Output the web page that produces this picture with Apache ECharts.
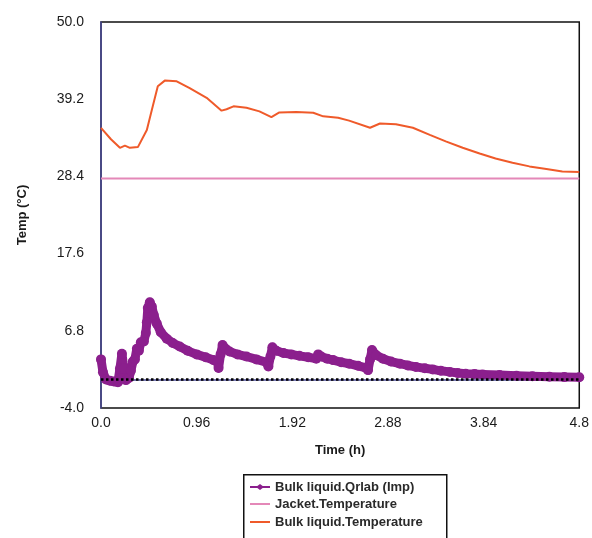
<!DOCTYPE html>
<html>
<head>
<meta charset="utf-8">
<script src="https://cdn.jsdelivr.net/npm/echarts@6/dist/echarts.min.js"></script>
<style>
html,body{margin:0;padding:0;background:#fff;}
#c{width:592px;height:538px;}
</style>
</head>
<body>
<div id="c"></div>
<script>
// ---- data ----
const seriesNames = ['Bulk liquid.Qrlab (Imp)', 'Jacket.Temperature', 'Bulk liquid.Temperature'];
const xTicks = [0, 0.96, 1.92, 2.88, 3.84, 4.8];
const yTicks = [-4.0, 6.8, 17.6, 28.4, 39.2, 50.0];

const qrlabTime = [0, 0.02, 0.05, 0.09, 0.13, 0.17, 0.19, 0.21, 0.23, 0.25, 0.28, 0.30, 0.32, 0.34, 0.36, 0.38, 0.40, 0.43, 0.45, 0.46, 0.47, 0.49, 0.51, 0.53, 0.56, 0.60, 0.66, 0.72, 0.79, 0.87, 0.96, 1.05, 1.13, 1.17, 1.18, 1.20, 1.22, 1.25, 1.29, 1.37, 1.46, 1.56, 1.66, 1.68, 1.70, 1.72, 1.76, 1.83, 1.91, 1.99, 2.08, 2.16, 2.18, 2.21, 2.27, 2.33, 2.41, 2.49, 2.58, 2.66, 2.68, 2.70, 2.72, 2.76, 2.83, 2.91, 3.00, 3.08, 3.16, 3.25, 3.33, 3.41, 3.50, 3.58, 3.66, 3.75, 3.83, 4.00, 4.17, 4.33, 4.50, 4.65, 4.80];
const qrlabValue = [2.8, 1.0, 0.0, -0.2, -0.3, -0.4, 1.5, 3.6, 1.5, -0.1, 0.2, 1.2, 2.5, 2.8, 4.3, 4.0, 5.2, 5.3, 6.5, 8.0, 10.0, 10.8, 10.2, 9.0, 7.8, 6.6, 5.7, 5.1, 4.6, 4.0, 3.5, 3.1, 2.7, 2.4, 1.6, 3.5, 4.8, 4.3, 3.9, 3.5, 3.2, 2.8, 2.4, 1.8, 3.2, 4.5, 4.0, 3.7, 3.5, 3.3, 3.1, 2.9, 3.5, 3.2, 2.9, 2.7, 2.4, 2.2, 1.9, 1.6, 1.3, 2.8, 4.1, 3.4, 2.9, 2.5, 2.2, 1.95, 1.75, 1.55, 1.4, 1.2, 1.05, 0.9, 0.8, 0.75, 0.7, 0.6, 0.5, 0.43, 0.37, 0.32, 0.3];

const jacketTime = [0, 4.8];
const jacketValue = [28.1, 28.1];

const bulkTime = [0, 0.10, 0.19, 0.24, 0.29, 0.37, 0.46, 0.51, 0.57, 0.64, 0.76, 0.89, 1.06, 1.21, 1.26, 1.33, 1.46, 1.59, 1.71, 1.79, 1.96, 2.13, 2.23, 2.38, 2.49, 2.70, 2.80, 2.96, 3.13, 3.30, 3.46, 3.63, 3.80, 3.96, 4.13, 4.30, 4.47, 4.63, 4.80];
const bulkValue = [35.2, 33.6, 32.4, 32.7, 32.4, 32.5, 34.9, 37.7, 41.0, 41.8, 41.7, 40.75, 39.4, 37.6, 37.8, 38.2, 38.0, 37.5, 36.7, 37.35, 37.4, 37.3, 36.8, 36.6, 36.2, 35.2, 35.8, 35.7, 35.2, 34.2, 33.3, 32.4, 31.6, 30.9, 30.3, 29.8, 29.45, 29.1, 29.0];

const zeroTime = [0, 4.8];
const zeroValue = [0, 0];

const pair = (ts, vs) => ts.map((t, i) => [t, vs[i]]);

const cPurple = '#8b1f8d', cPink = '#e488b8', cOrange = '#ef5a2a';
const axisBlue = '#4a4a98';
const font = 'Liberation Sans, Arial, sans-serif';

const legendText = {fontFamily: font, fontSize: 13, fontWeight: 'bold', color: '#2a2a2a', lineHeight: 14};
const lineIcon = 'path://M0,4L20,4L20,6L0,6Z';
const markIcon = 'path://M0,4L20,4L20,6L0,6Z M6,5L10,2L14,5L10,8Z';
function legendAt(name, top, icon, color) {
  return {
    orient: 'vertical', left: 250, top: top, padding: 0,
    itemWidth: 20, itemHeight: 10, itemGap: 0,
    textStyle: legendText, selectedMode: false,
    data: [{name: name, icon: icon, itemStyle: {color: color, borderWidth: 0}}]
  };
}

const chart = echarts.init(document.getElementById('c'), null, {renderer: 'canvas'});
chart.setOption({
  animation: false,
  backgroundColor: '#fff',
  grid: {left: 101, right: 11, top: 22, bottom: 130, show: true, borderColor: '#111', borderWidth: 1.5, backgroundColor: 'transparent'},
  graphic: [{
    type: 'rect', left: 243, top: 474, z: -1,
    shape: {width: 203, height: 80},
    style: {fill: '#fff', stroke: '#111', lineWidth: 1.5}
  }],
  xAxis: {
    type: 'value', min: xTicks[0], max: xTicks[xTicks.length - 1], interval: 0.96,
    name: 'Time (h)', nameLocation: 'middle', nameGap: 36,
    nameTextStyle: {fontFamily: font, fontSize: 13, fontWeight: 'bold', color: '#1a1a1a'},
    axisLine: {show: true, lineStyle: {color: axisBlue, width: 1.5}},
    axisTick: {show: false}, splitLine: {show: false},
    axisLabel: {fontFamily: font, fontSize: 14, color: '#1a1a1a', margin: 8, showMinLabel: true, showMaxLabel: true,
      formatter: v => v === 0 ? '0.0' : String(+v.toFixed(2))}
  },
  yAxis: {
    type: 'value', min: yTicks[0], max: yTicks[yTicks.length - 1], interval: 10.8,
    name: 'Temp (°C)', nameLocation: 'middle', nameGap: 72, nameRotate: 90,
    nameTextStyle: {fontFamily: font, fontSize: 13, fontWeight: 'bold', color: '#1a1a1a'},
    axisLine: {show: true, lineStyle: {color: axisBlue, width: 1.5}},
    axisTick: {show: false}, splitLine: {show: false},
    axisLabel: {fontFamily: font, fontSize: 14, color: '#1a1a1a', margin: 17, showMinLabel: true, showMaxLabel: true,
      formatter: v => v.toFixed(1)}
  },
  legend: [
    legendAt(seriesNames[0], 480, markIcon, cPurple),
    legendAt(seriesNames[1], 497, lineIcon, cPink),
    legendAt(seriesNames[2], 515, lineIcon, cOrange)
  ],
  series: [
    {name: seriesNames[2], type: 'line', data: pair(bulkTime, bulkValue), showSymbol: false, symbol: 'none',
      lineStyle: {color: cOrange, width: 2}, itemStyle: {color: cOrange}, z: 2},
    {name: seriesNames[1], type: 'line', data: pair(jacketTime, jacketValue), showSymbol: false, symbol: 'none',
      lineStyle: {color: cPink, width: 2}, itemStyle: {color: cPink}, z: 2},
    {name: seriesNames[0], type: 'line', data: pair(qrlabTime, qrlabValue), symbol: 'circle', symbolSize: 10, showSymbol: true,
      lineStyle: {color: cPurple, width: 9, cap: 'round', join: 'round'}, itemStyle: {color: cPurple}, z: 3},
    {name: 'zero', type: 'line', data: pair(zeroTime, zeroValue), symbol: 'none',
      lineStyle: {color: '#000', width: 2.5, type: [2.5, 2.5]}, z: 4, silent: true}
  ]
});
</script>
</body>
</html>
